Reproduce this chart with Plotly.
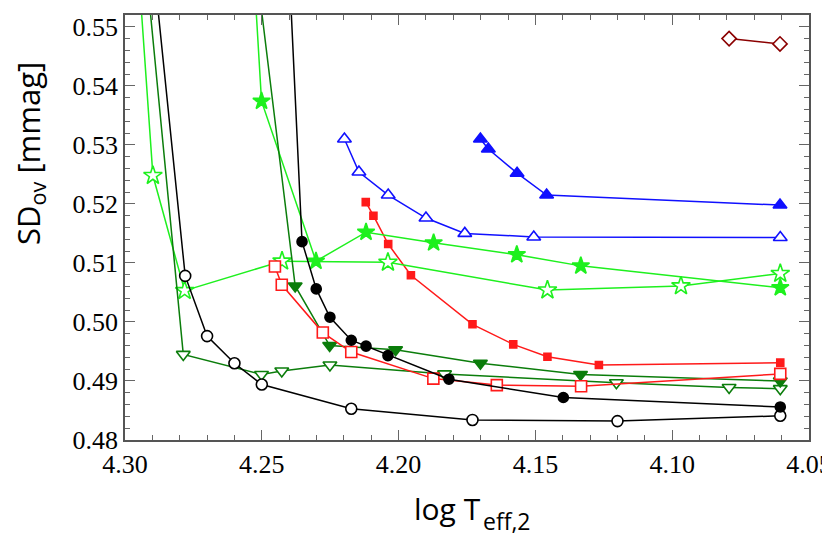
import plotly.graph_objects as go

# ---- data (log Teff,2 , SD_ov [mmag]) ----
open_circle_x = [4.2895, 4.278, 4.270, 4.260, 4.250, 4.2173, 4.173, 4.120, 4.0605]
open_circle_y = [0.560, 0.5078, 0.4976, 0.4930, 0.4894, 0.4853, 0.4834, 0.4832, 0.4841]

filled_circle_x = [4.240, 4.2353, 4.2301, 4.2251, 4.2173, 4.2119, 4.2039, 4.1816, 4.1398, 4.0605]
filled_circle_y = [0.560, 0.5136, 0.5056, 0.5008, 0.4969, 0.4959, 0.4943, 0.4903, 0.4872, 0.4856]

filled_tri_down_x = [4.252, 4.2378, 4.2252, 4.2011, 4.1701, 4.1335, 4.0605]
filled_tri_down_y = [0.560, 0.5061, 0.4960, 0.4953, 0.4930, 0.4911, 0.4900]

open_tri_down_x = [4.2923, 4.2787, 4.2501, 4.2427, 4.2251, 4.1832, 4.1204, 4.0792, 4.0605]
open_tri_down_y = [0.560, 0.4945, 0.4911, 0.4917, 0.4927, 0.4912, 0.4897, 0.4889, 0.4887]

open_star_x = [4.2951, 4.2898, 4.2782, 4.2426, 4.2039, 4.1456, 4.0968, 4.0605]
open_star_y = [0.560, 0.5248, 0.5053, 0.5103, 0.5101, 0.5054, 0.5061, 0.5082]

filled_star_x = [4.253, 4.2501, 4.2302, 4.2119, 4.1872, 4.1568, 4.1334, 4.0605]
filled_star_y = [0.560, 0.5374, 0.5103, 0.5152, 0.5134, 0.5114, 0.5095, 0.5058]

open_square_x = [4.2452, 4.2427, 4.2277, 4.2173, 4.1873, 4.1641, 4.1333, 4.0605]
open_square_y = [0.5094, 0.5063, 0.4982, 0.4949, 0.4904, 0.4893, 0.4891, 0.4912]

filled_square_x = [4.2120, 4.2092, 4.2038, 4.1955, 4.1730, 4.1581, 4.1456, 4.1268, 4.0605]
filled_square_y = [0.5203, 0.5180, 0.5132, 0.5079, 0.4996, 0.4962, 0.4941, 0.4927, 0.4931]

open_tri_up_x = [4.2198, 4.2145, 4.2038, 4.1900, 4.1758, 4.1506, 4.0605]
open_tri_up_y = [0.5310, 0.5254, 0.5215, 0.5176, 0.5150, 0.5144, 0.5143]

filled_tri_up_x = [4.1701, 4.1672, 4.1567, 4.1459, 4.0606]
filled_tri_up_y = [0.5310, 0.5293, 0.5252, 0.5215, 0.5198]

open_diamond_x = [4.0792, 4.0606]
open_diamond_y = [0.5480, 0.5471]

x_tick_vals = [4.30, 4.25, 4.20, 4.15, 4.10, 4.05]
x_tick_text = ["4.30", "4.25", "4.20", "4.15", "4.10", "4.05"]
y_tick_vals = [0.48, 0.49, 0.50, 0.51, 0.52, 0.53, 0.54, 0.55]
y_tick_text = ["0.48", "0.49", "0.50", "0.51", "0.52", "0.53", "0.54", "0.55"]

BLACK = "#000000"
DKGREEN = "#0b7d0b"
GREEN = "#1ef01e"
RED = "#ff1a1a"
BLUE = "#1010ff"
DKRED = "#8b0000"

SERIF = "Liberation Serif"
SANS = "Open Sans"

fig = go.Figure()


def add(x, y, color, symbol, size, filled, lw=1.5):
    fig.add_trace(go.Scatter(
        x=x, y=y, mode="lines+markers",
        line=dict(color=color, width=lw),
        marker=dict(symbol=symbol, size=size,
                    color=color if filled else "white",
                    line=dict(color=color, width=1.6)),
        showlegend=False,
    ))


add(open_diamond_x, open_diamond_y, DKRED, "diamond", 11, False)
add(open_tri_up_x, open_tri_up_y, BLUE, "triangle-up", 12, False)
add(filled_tri_up_x, filled_tri_up_y, BLUE, "triangle-up", 12, True)
add(filled_square_x, filled_square_y, RED, "square", 7, True)
add(open_star_x, open_star_y, GREEN, "star", 14, False)
add(filled_star_x, filled_star_y, GREEN, "star", 13, True)
add(open_tri_down_x, open_tri_down_y, DKGREEN, "triangle-down", 12, False)
add(filled_tri_down_x, filled_tri_down_y, DKGREEN, "triangle-down", 12, True)
add(open_square_x, open_square_y, RED, "square", 11, False)
add(open_circle_x, open_circle_y, BLACK, "circle", 11, False)
add(filled_circle_x, filled_circle_y, BLACK, "circle", 10, True)

line = dict(showline=True, linecolor="#555555", linewidth=1.5, mirror="ticks")
tick = dict(ticks="inside", ticklen=10, tickwidth=1.2, tickcolor="#666666")
grid = dict(showgrid=False, zeroline=False)

fig.update_xaxes(
    range=[4.30, 4.05], tickvals=x_tick_vals, ticktext=x_tick_text,
    tickfont=dict(family=SERIF, size=26, color="black"),
    minor=dict(dtick=0.01, ticks="inside", ticklen=5, tickwidth=1.2, tickcolor="#666666"),
    **line, **tick, **grid,
)
fig.update_yaxes(
    range=[0.48, 0.552], tickvals=y_tick_vals, ticktext=y_tick_text,
    tickfont=dict(family=SERIF, size=26, color="black"),
    minor=dict(dtick=0.002, ticks="inside", ticklen=5, tickwidth=1.2, tickcolor="#666666"),
    **line, **tick, **grid,
)

fig.add_annotation(
    text="log T", xref="paper", yref="paper",
    x=0.5234, y=-0.162, xanchor="right", yanchor="middle", showarrow=False,
    font=dict(family=SANS, size=30, color="black"),
)
fig.add_annotation(
    text="eff,2", xref="paper", yref="paper",
    x=0.521, y=-0.19, xanchor="left", yanchor="middle", showarrow=False,
    font=dict(family=SANS, size=23, color="black"),
)
fig.add_annotation(
    text="SD<sub>ov</sub> [mmag]",
    xref="paper", yref="paper",
    x=-0.139, y=0.675, xanchor="center", yanchor="middle", showarrow=False,
    textangle=-90,
    font=dict(family=SANS, size=31, color="black"),
)

fig.update_layout(
    width=830, height=534,
    margin=dict(l=117, r=29, t=5, b=102),
    paper_bgcolor="white", plot_bgcolor="white",
)

fig.write_html("out.html")
